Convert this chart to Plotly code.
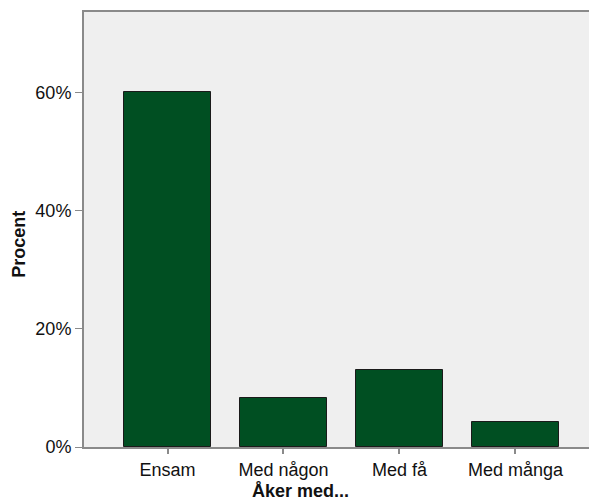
import plotly.graph_objects as go

# Andel per kategori (procent)
kategorier = ["Ensam", "Med någon", "Med få", "Med många"]
procent = [60.2, 8.3, 13.1, 4.2]
y_ticks = [0, 20, 40, 60]
y_labels = ["0%", "20%", "40%", "60%"]

fig = go.Figure()
fig.add_trace(go.Bar(
    x=kategorier, y=procent, width=0.75,
    marker=dict(color="#004F22", line=dict(color="#1a1a1a", width=1)),
    hoverinfo="x+y",
))

fig.update_layout(
    width=589, height=501,
    margin=dict(l=84, r=0, t=12, b=54, autoexpand=False),
    paper_bgcolor="white", plot_bgcolor="#EFEFEF",
    font=dict(family="Liberation Sans, Arial, sans-serif", size=18, color="#111"),
    showlegend=False, bargap=0,
)
fig.update_xaxes(
    range=[-0.72, 3.634], showgrid=False, automargin=False,
    showline=True, linecolor="#8a8a8a", linewidth=2, mirror=True,
    ticks="outside", ticklen=5, tickcolor="#8a8a8a", tickwidth=2,
)
fig.update_yaxes(
    range=[0, 73.7], showgrid=False, zeroline=False, automargin=False,
    showline=True, linecolor="#8a8a8a", linewidth=2,
    tickvals=y_ticks, ticktext=y_labels,
    ticks="outside", ticklen=7, tickcolor="#8a8a8a", tickwidth=1,
)

# axeltitlar (SPSS placerar dem inte exakt i mitten)
fig.add_annotation(text="<b>Åker med...</b>", xref="paper", yref="paper",
                   x=0.428, y=-0.101, xanchor="center", yanchor="middle",
                   showarrow=False, font=dict(size=18))
fig.add_annotation(text="<b>Procent</b>", xref="paper", yref="paper",
                   x=-0.129, y=0.467, xanchor="center", yanchor="middle",
                   textangle=-90, showarrow=False, font=dict(size=18))

fig.write_html("out.html", config={"displayModeBar": False},
               post_script="document.body.style.margin='0';")
